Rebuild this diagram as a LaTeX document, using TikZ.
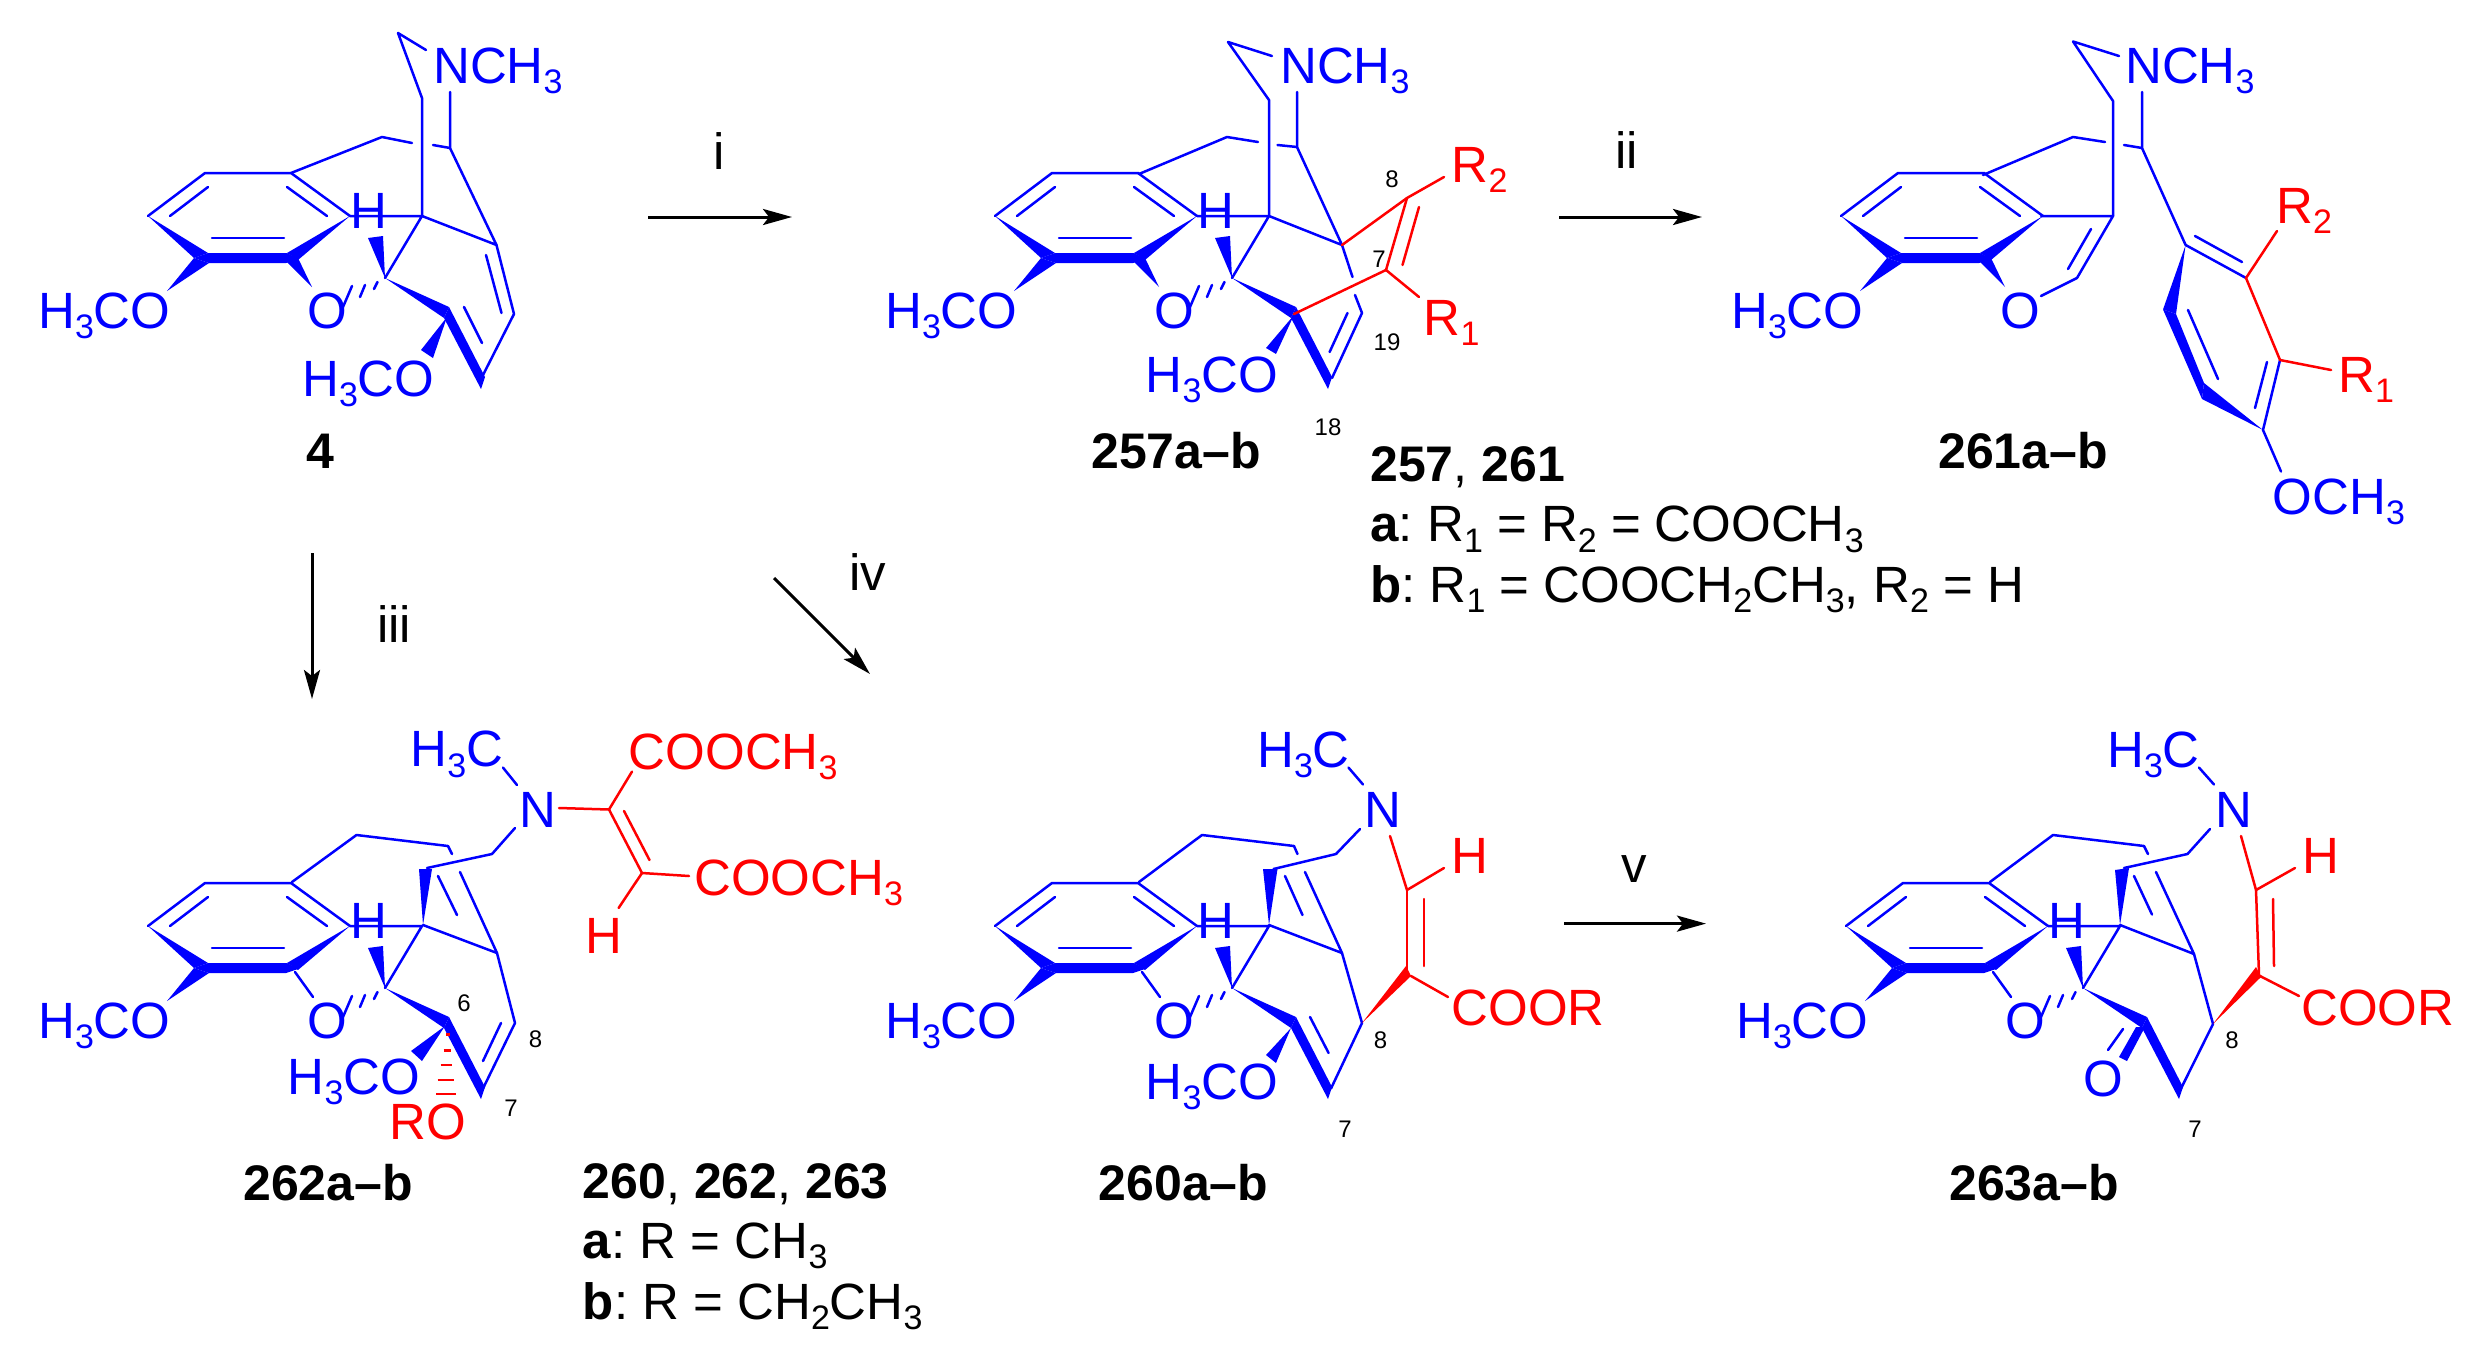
\documentclass[tikz,border=0pt]{standalone}
\usepackage{fontspec}
\setmainfont{Liberation Sans}
\usetikzlibrary{arrows.meta}
\tikzstyle{atom}=[anchor=base west, inner sep=0pt, xshift=-3pt, text=blue, font=\fontsize{51}{51}\selectfont\frenchspacing]
\tikzstyle{atomred}=[atom, text=red]
\tikzstyle{plain}=[anchor=base west, inner sep=0pt, text=black, font=\fontsize{51}{51}\selectfont\frenchspacing]
\tikzstyle{cmpd}=[anchor=base west, inner sep=0pt, text=black, font=\fontsize{50}{50}\selectfont\bfseries]
\tikzstyle{locant}=[inner sep=0pt, text=black, font=\fontsize{24}{24}\selectfont]
\tikzstyle{bond}=[blue, line width=2.5pt, line cap=round, line join=round]
\tikzstyle{bondred}=[red, line width=2.5pt, line cap=round, line join=round]
\tikzstyle{rxn}=[black, line width=3pt, -{Stealth[length=29pt,width=16pt,inset=6pt]}]
\newcommand{\subdig}[1]{\raisebox{-10.5pt}{\fontsize{34}{34}\selectfont #1}}
\newcommand{\arylcore}[1]{%
\draw[bond] (148,216)--(205,173)--(291,173)--(350,216);
\draw[bond] (208,187)--(170,216);
\draw[bond] (287,187)--(327,216);
\draw[bond] (212,238)--(284,238);
\fill[blue] (148,216)--(208,253)--(194,258)--cycle;
\fill[blue] (208,253)--(287,253)--(298,259)--(286,263)--(209,263)--(194,258)--cycle;
\fill[blue] (350,216)--(287,253)--(298,260)--cycle;
\fill[blue] (167,291)--(194,258)--(209,263)--cycle;
\draw (41,328) node[atom](#1meo){H\subdig{3}CO};
\draw (310,328) node[atom](#1oxy){O};
}
\newcommand{\bridgecore}[1]{%
\draw[bond] (350,216)--(422,216)--(385,278);
\draw (353,228) node[atom](#1h){H};
\fill[blue] (385,278)--(368,238)--(383,236)--cycle;
\draw[bond] (377.5,282)--(374,289);
\draw[bond] (365,285)--(360,297);
\draw[bond] (352,286)--(343,307);
\fill[blue] (385,278)--(449,307)--(444,318)--cycle;
\fill[blue] (449,307)--(485,377)--(481,389)--(444,318)--cycle;
}
\begin{document}
\begin{tikzpicture}[x=1pt,y=-1pt]
\useasboundingbox (0,0) rectangle (2490,1366);
\fill[white] (0,0) rectangle (2490,1366);

\begin{scope}
\arylcore{a}
\bridgecore{a}
\fill[blue] (287,262)--(298,258)--(312,287)--cycle;
\end{scope}
\draw[bond] (426,50)--(398,33)--(422,98)--(422,216);
\draw[bond] (450,92)--(450,148)--(496.5,245)--(422,216);
\draw[bond] (291,173)--(382,137)--(412,143);
\draw[bond] (433,145)--(450,148);
\draw[bond] (496.5,245)--(514,314)--(482,377);
\draw[bond] (486,255)--(501.5,313);
\draw[bond] (482,343)--(464,307);
\fill[blue] (447,317)--(421,350)--(433,358)--cycle;
\draw (436,83) node[atom](nmea){NCH\subdig{3}};
\draw (305,396) node[atom](meoa){H\subdig{3}CO};
\draw (306,468) node[cmpd](cmpdfour){4};

\begin{scope}[shift={(847,0)}]
\arylcore{b}
\bridgecore{b}
\fill[blue] (287,262)--(298,258)--(312,287)--cycle;
\end{scope}
\draw[bond] (1272,56)--(1228,42)--(1269,100)--(1269,216);
\draw[bond] (1297,92)--(1297,147)--(1342,245)--(1269,216);
\draw[bond] (1139,174)--(1227,137)--(1258,142);
\draw[bond] (1277.5,145)--(1297,147);
\draw[bond] (1342,245)--(1352.5,277);
\draw[bond] (1355,295)--(1362,313)--(1332,378);
\draw[bond] (1347.5,313)--(1329.6,352);
\fill[blue] (1294,315)--(1266,348)--(1276,354)--cycle;
\draw[bondred] (1342,245)--(1407,198)--(1444,177);
\draw[bondred] (1407,198)--(1386,270)--(1419,297);
\draw[bondred] (1419,207)--(1402.5,265);
\draw[bondred] (1386,270)--(1294,314);
\draw (1283,83) node[atom](nmeb){NCH\subdig{3}};
\draw (1148.5,392) node[atom](meob){H\subdig{3}CO};
\draw (1454.6,182) node[atomred](rtwob){R\subdig{2}};
\draw (1426.5,335) node[atomred](roneb){R\subdig{1}};
\draw (1392,179) node[locant](loceightb){8};
\draw (1379,259) node[locant](locsevenb){7};
\draw (1387,342) node[locant](locnineb){19};
\draw (1328,427) node[locant](loctenb){18};
\draw (1091,468) node[cmpd](cmpdtwofivesev){257a–b};
\draw (1370,481) node[cmpd](legendb){257\textmd{,} 261};
\draw (1370,541.7) node[plain](legendba){\textbf{a}: R\subdig{1} = R\subdig{2} = COOCH\subdig{3}};
\draw (1370,602) node[plain](legendbb){\textbf{b}: R\subdig{1} = COOCH\subdig{2}CH\subdig{3}, R\subdig{2} = H};

\begin{scope}[shift={(1693,0)}]
\arylcore{c}
\fill[blue] (287,262)--(298,258)--(312,287)--cycle;
\end{scope}
\draw[bond] (2041,216)--(2113,216)--(2077,278)--(2041,296);
\draw[bond] (2091,229)--(2068,269);
\draw[bond] (2119,56)--(2073,41.5)--(2113,101)--(2113,216);
\draw[bond] (2142,92)--(2142,148)--(2185.6,245);
\draw[bond] (1983,175)--(2073,137)--(2105,142);
\draw[bond] (2124,145)--(2142,148);
\draw[bond] (2185.6,245)--(2246,278);
\draw[bond] (2195,236)--(2242,262);
\draw[bond] (2188,310)--(2218,379);
\draw[bond] (2280,360)--(2263,430)--(2281,471.5);
\draw[bond] (2267,362)--(2255,408);
\fill[blue] (2185.6,245)--(2163,309.5)--(2176,314)--cycle;
\fill[blue] (2163,309.5)--(2176,314)--(2204,383)--(2202,399)--cycle;
\fill[blue] (2204,383)--(2202,399)--(2263,430)--cycle;
\draw[bondred] (2277,231)--(2246,278)--(2280,360)--(2331,370);
\draw (2128,83) node[atom](nmec){NCH\subdig{3}};
\draw (2275.6,514) node[atom](meoc){OCH\subdig{3}};
\draw (2279,223) node[atomred](rtwoc){R\subdig{2}};
\draw (2341,392) node[atomred](ronec){R\subdig{1}};
\draw (1938,468) node[cmpd](cmpdtwosixone){261a–b};

\begin{scope}[shift={(0,710)}]
\arylcore{d}
\bridgecore{d}
\draw[bond] (295,262)--(313,287);
\end{scope}
\draw[bond] (292,882)--(356.5,835)--(448,846)--(452,854);
\draw[bond] (427,868)--(492,854)--(515,828);
\fill[blue] (423,925)--(419,869)--(432,869)--cycle;
\draw[bond] (460,872)--(497,953)--(423,925);
\draw[bond] (438,876)--(457,915);
\draw[bond] (497,953)--(515,1023)--(483,1088.5);
\draw[bond] (501,1023)--(483,1061);
\draw[bond] (503,767.6)--(517,785);
\fill[blue] (445,1026)--(411,1051)--(422,1061)--cycle;
\draw[bondred] (559,808)--(609,809.5)--(632,771.6);
\draw[bondred] (609,809.5)--(642,873)--(689,876);
\draw[bondred] (642,873)--(618.6,908);
\draw[bondred] (624,811)--(649.5,860);
\foreach \hy/\hl/\hr in {1034.5/446/449.6, 1050.7/443.6/451, 1065/440.7/452, 1080/437.7/453.7, 1094/436/455.5}
\draw[bondred, line cap=butt] (\hl,\hy)--(\hr,\hy);
\draw (522,827) node[atom](nd){N};
\draw (413.4,766.6) node[atom](med){H\subdig{3}C};
\draw (290.6,1094) node[atom](meod){H\subdig{3}CO};
\draw (631.7,769) node[atomred](estaa){COOCH\subdig{3}};
\draw (697,895) node[atomred](estab){COOCH\subdig{3}};
\draw (588,953) node[atomred](hd){H};
\draw (392.6,1139) node[atomred](rod){RO};
\draw (464,1003) node[locant](locsixd){6};
\draw (535.6,1039.5) node[locant](loceightd){8};
\draw (511,1108) node[locant](locsevend){7};
\draw (243,1200) node[cmpd](cmpdtwosixtwo){262a–b};
\draw (582.7,1198) node[cmpd](legendd){260\textmd{,} 262\textmd{,} 263};
\draw (582.7,1258) node[plain](legendda){\textbf{a}: R = CH\subdig{3}};
\draw (582.7,1319) node[plain](legenddb){\textbf{b}: R = CH\subdig{2}CH\subdig{3}};

\begin{scope}[shift={(847,710)}]
\arylcore{e}
\bridgecore{e}
\draw[bond] (295,262)--(313,287);
\end{scope}
\draw[bond] (1139,882)--(1202,835)--(1294,846)--(1297.5,854);
\draw[bond] (1273.5,869)--(1336,854)--(1360,829);
\fill[blue] (1269,925)--(1263,869)--(1277.5,869)--cycle;
\draw[bond] (1305,872)--(1342,953)--(1269,925);
\draw[bond] (1285,876)--(1302.5,915);
\draw[bond] (1342,953)--(1362,1023)--(1331,1088.5);
\draw[bond] (1310,1017)--(1328.6,1053);
\draw[bond] (1348.5,767.6)--(1363,784.5);
\fill[blue] (1291,1028)--(1266,1055)--(1276,1063)--cycle;
\draw[bondred] (1390,836)--(1407,890)--(1444,868);
\draw[bondred] (1407,890)--(1407,975);
\draw[bondred] (1424,899)--(1424,966);
\draw[bondred] (1411,976)--(1448,997);
\fill[red] (1362,1023)--(1406,966)--(1411,976)--cycle;
\draw (1367,827) node[atom](ne){N};
\draw (1260,767) node[atom](mee){H\subdig{3}C};
\draw (1148.5,1099) node[atom](meoe){H\subdig{3}CO};
\draw (1454.6,873) node[atomred](he){H};
\draw (1454.6,1025) node[atomred](coore){COOR};
\draw (1380.6,1040) node[locant](loceighte){8};
\draw (1345,1129) node[locant](locsevene){7};
\draw (1098.5,1200) node[cmpd](cmpdtwosixzero){260a–b};

\begin{scope}[shift={(1698,710)}]
\arylcore{f}
\bridgecore{f}
\draw[bond] (295,262)--(313,287);
\end{scope}
\draw[bond] (1990,882)--(2053,835)--(2144,846)--(2148,854);
\draw[bond] (2124,868)--(2187.5,854)--(2210,829);
\fill[blue] (2120,925)--(2115,870)--(2129,868)--cycle;
\draw[bond] (2156,872)--(2194,954)--(2120,925);
\draw[bond] (2134,876)--(2152,914.5);
\draw[bond] (2194,954)--(2213,1024)--(2181,1088.5);
\draw[bond] (2199,767.6)--(2214,784.5);
\fill[blue] (2136,1027)--(2145,1027)--(2127,1061)--(2119,1057)--cycle;
\draw[bond] (2123,1029)--(2108,1050);
\draw[bondred] (2241,836)--(2256,890)--(2295,868);
\draw[bondred] (2256,890)--(2259,975);
\draw[bondred] (2273,899)--(2274,966);
\draw[bondred] (2260,976)--(2299,996);
\fill[red] (2213,1024)--(2256,967)--(2261,977)--cycle;
\draw (2218,827) node[atom](nf){N};
\draw (2110,767) node[atom](mef){H\subdig{3}C};
\draw (2086.4,1096) node[atom](oxof){O};
\draw (2305,873) node[atomred](hf){H};
\draw (2304,1025) node[atomred](coorf){COOR};
\draw (2232,1040) node[locant](loceightf){8};
\draw (2195,1129) node[locant](locsevenf){7};
\draw (1949,1200) node[cmpd](cmpdtwosixthree){263a–b};

\coordinate (ia) at (648,217);
\coordinate (ib) at (792,217);
\coordinate (iia) at (1559,217);
\coordinate (iib) at (1702,217);
\coordinate (iiia) at (312,553);
\coordinate (iiib) at (312,699);
\coordinate (iva) at (774,578);
\coordinate (ivb) at (870,674);
\coordinate (va) at (1564,923.6);
\coordinate (vb) at (1706,923.6);
\draw[rxn] (ia)--(ib);
\draw[rxn] (iia)--(iib);
\draw[rxn] (iiia)--(iiib);
\draw[rxn] (iva)--(ivb);
\draw[rxn] (va)--(vb);
\draw (713,169) node[plain](labi){i};
\draw (1615,168) node[plain](labii){ii};
\draw (377,642) node[plain](labiii){iii};
\draw (849,590) node[plain](labiv){iv};
\draw (1621,882) node[plain](labv){v};
\end{tikzpicture}
\end{document}
